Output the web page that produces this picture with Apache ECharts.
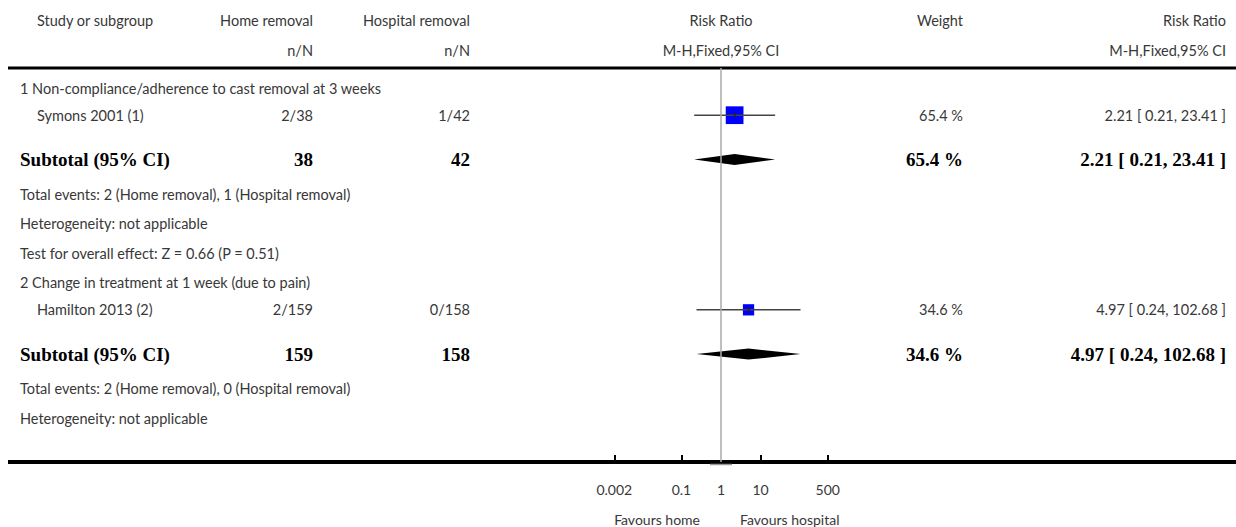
<!DOCTYPE html>
<html><head><meta charset="utf-8">
<script src="https://cdn.jsdelivr.net/npm/echarts@6/dist/echarts.min.js"></script>
<style>html,body{margin:0;padding:0;background:#fff}#c{width:1236px;height:527px}</style>
</head><body><div id="c"></div>
<script>
// ---- data ----
const rowText = [
  '1 Non-compliance/adherence to cast removal at 3 weeks',
  'Symons 2001 (1)',
  'Subtotal (95% CI)',
  'Total events: 2 (Home removal), 1 (Hospital removal)',
  'Heterogeneity: not applicable',
  'Test for overall effect: Z = 0.66 (P = 0.51)',
  '2 Change in treatment at 1 week (due to pain)',
  'Hamilton 2013 (2)',
  'Subtotal (95% CI)',
  'Total events: 2 (Home removal), 0 (Hospital removal)',
  'Heterogeneity: not applicable'
];
const rowKind = ['group','study','subtotal','note','note','note','group','study','subtotal','note','note'];
const homeText = ['', '2/38', '38', '', '', '', '', '2/159', '159', '', ''];
const hospText = ['', '1/42', '42', '', '', '', '', '0/158', '158', '', ''];
const weightText = ['', '65.4 %', '65.4 %', '', '', '', '', '34.6 %', '34.6 %', '', ''];
const ciText = ['', '2.21 [ 0.21, 23.41 ]', '2.21 [ 0.21, 23.41 ]', '', '', '', '', '4.97 [ 0.24, 102.68 ]', '4.97 [ 0.24, 102.68 ]', '', ''];
const rrValue = [null, 2.21, 2.21, null, null, null, null, 4.97, 4.97, null, null];
const ciLow = [null, 0.21, 0.21, null, null, null, null, 0.24, 0.24, null, null];
const ciHigh = [null, 23.41, 23.41, null, null, null, null, 102.68, 102.68, null, null];
const weightValue = [null, 65.4, 65.4, null, null, null, null, 34.6, 34.6, null, null];
const tickValues = [0.002, 0.1, 1, 10, 500];
const tickLabels = ['0.002', '0.1', '1', '10', '500'];
const headerCols = ['Study or subgroup', 'Home removal', 'Hospital removal', 'Risk Ratio', 'Weight', 'Risk Ratio'];
const headerSub = ['', 'n/N', 'n/N', 'M-H,Fixed,95% CI', '', 'M-H,Fixed,95% CI'];
const favoursText = ['Favours home', 'Favours hospital'];

// ---- layout ----
const SANS = 'Lato, "Open Sans", sans-serif';
const SERIF = '"Liberation Serif", "DejaVu Serif", serif';
const TXT = '#383838';
const FS = '14.5px ';
function gapBefore(prev, cur) {
  if (prev === null) return 0.68;
  if (cur === 'subtotal') return 1.5;
  if (prev === 'subtotal') return 1.18;
  if (prev === 'group') return 0.92;
  return 1;
}
const rowY = [];
rowKind.forEach((k, i) => {
  const prev = i === 0 ? null : rowKind[i - 1];
  rowY.push((i === 0 ? 0 : rowY[i - 1]) + gapBefore(prev, k));
});
const Y_MAX = 13.36;

const tableData = rowText.map((t, i) => [0, rowY[i], i]);
const forestData = [];
rrValue.forEach((v, i) => {
  if (v == null) return;
  forestData.push([Math.log10(ciLow[i]), Math.log10(v), Math.log10(ciHigh[i]), rowY[i], weightValue[i], rowKind[i] === 'subtotal' ? 1 : 0]);
});
const tickLogs = tickValues.map(v => Math.log10(v));

const COL = { label: 20, study: 37, home: 313, hosp: 470, weight: 963, ci: 1226 };

function renderTable(params, api) {
  const i = api.value(2);
  const y = api.coord([0, api.value(1)])[1];
  const kind = rowKind[i];
  const bold = kind === 'subtotal';
  const font = bold ? 'bold 19px ' + SERIF : FS + SANS;
  const fill = bold ? '#000' : TXT;
  const mk = (text, x, align) => ({ type: 'text', style: { text, x, y, align, verticalAlign: 'middle', font, fill } });
  const children = [mk(rowText[i], kind === 'study' ? COL.study : COL.label, 'left')];
  if (homeText[i]) children.push(mk(homeText[i], COL.home, 'right'));
  if (hospText[i]) children.push(mk(hospText[i], COL.hosp, 'right'));
  if (weightText[i]) children.push(mk(weightText[i], COL.weight, 'right'));
  if (ciText[i]) children.push(mk(ciText[i], COL.ci, 'right'));
  return { type: 'group', children };
}

function renderForest(params, api) {
  const yv = api.value(3);
  const lo = api.coord([api.value(0), yv]);
  const mid = api.coord([api.value(1), yv]);
  const hi = api.coord([api.value(2), yv]);
  if (api.value(5) === 1) {
    const h = 5.5;
    return { type: 'polygon', shape: { points: [[lo[0], lo[1]], [mid[0], mid[1] - h], [hi[0], hi[1]], [mid[0], mid[1] + h]] }, style: { fill: '#000' } };
  }
  const s = 4 + 0.21 * api.value(4);
  return { type: 'group', children: [
    { type: 'rect', shape: { x: mid[0] - s / 2, y: mid[1] - s / 2, width: s, height: s }, style: { fill: '#0000ff' } },
    { type: 'line', shape: { x1: lo[0], y1: lo[1], x2: hi[0], y2: hi[1] }, style: { stroke: '#444', lineWidth: 1.5 } },
    { type: 'line', shape: { x1: mid[0], y1: mid[1] - 2.5, x2: mid[0], y2: mid[1] + 2.5 }, style: { stroke: '#222', lineWidth: 1.5 } }
  ] };
}

const chart = echarts.init(document.getElementById('c'), null, { renderer: 'svg' });
const GRID = { left: 614.3, top: 68, width: 213.4, height: 394 };
const headerX = [COL.study, COL.home, COL.hosp, 721, COL.weight, COL.ci];
const headerAlign = ['left', 'right', 'right', 'center', 'right', 'right'];
const graphics = [];
headerCols.forEach((t, i) => {
  graphics.push({ type: 'text', x: headerX[i], y: 20, style: { text: t, align: headerAlign[i], verticalAlign: 'middle', font: FS + SANS, fill: TXT } });
  if (headerSub[i]) graphics.push({ type: 'text', x: headerX[i], y: 50, style: { text: headerSub[i], align: headerAlign[i], verticalAlign: 'middle', font: FS + SANS, fill: TXT } });
});
graphics.push({ type: 'line', shape: { x1: 8, y1: 68, x2: 1236, y2: 68 }, style: { stroke: '#000', lineWidth: 3 } });
graphics.push({ type: 'line', shape: { x1: 8, y1: 462, x2: 1236, y2: 462 }, style: { stroke: '#000', lineWidth: 4 }, z: 0 });

chart.setOption({
  animation: false,
  grid: GRID,
  xAxis: {
    type: 'value', position: 'bottom',
    min: Math.log10(tickValues[0]), max: Math.log10(tickValues[tickValues.length - 1]),
    axisLine: { show: false, onZero: false },
    splitLine: { show: false },
    axisTick: { show: true, inside: true, length: 7, lineStyle: { color: '#000', width: 2 }, customValues: tickLogs.filter((v, i) => tickValues[i] !== 1) },
    axisLabel: { customValues: tickLogs, margin: 20, fontSize: 14, fontFamily: SANS, color: TXT,
      formatter: v => { const k = tickLogs.findIndex(t => Math.abs(t - v) < 1e-6); return k >= 0 ? tickLabels[k] : ''; } }
  },
  yAxis: { type: 'value', min: 0, max: Y_MAX, inverse: true, show: false },
  graphic: graphics,
  series: [
    { type: 'custom', name: 'table', data: tableData, renderItem: renderTable, clip: false, encode: { x: 0, y: 1 }, silent: true },
    { type: 'custom', name: 'forest', data: forestData, renderItem: renderForest, clip: false, encode: { x: [0, 1, 2], y: 3 }, z: 3,
      markLine: { silent: true, symbol: 'none', label: { show: false }, lineStyle: { color: '#aaa', width: 1.5, type: 'solid' }, data: [{ xAxis: 0 }] } }
  ]
});
const nullX = chart.convertToPixel({ xAxisIndex: 0 }, 0);
chart.setOption({ graphic: graphics.concat([
  { type: 'line', shape: { x1: nullX - 11, y1: 464.5, x2: nullX + 11, y2: 464.5 }, style: { stroke: '#999', lineWidth: 1.5 } },
  { type: 'text', x: nullX - 21, y: 519, style: { text: favoursText[0], align: 'right', verticalAlign: 'middle', font: '14px ' + SANS, fill: TXT } },
  { type: 'text', x: nullX + 19, y: 519, style: { text: favoursText[1], align: 'left', verticalAlign: 'middle', font: '14px ' + SANS, fill: TXT } }
]) });
</script></body></html>
